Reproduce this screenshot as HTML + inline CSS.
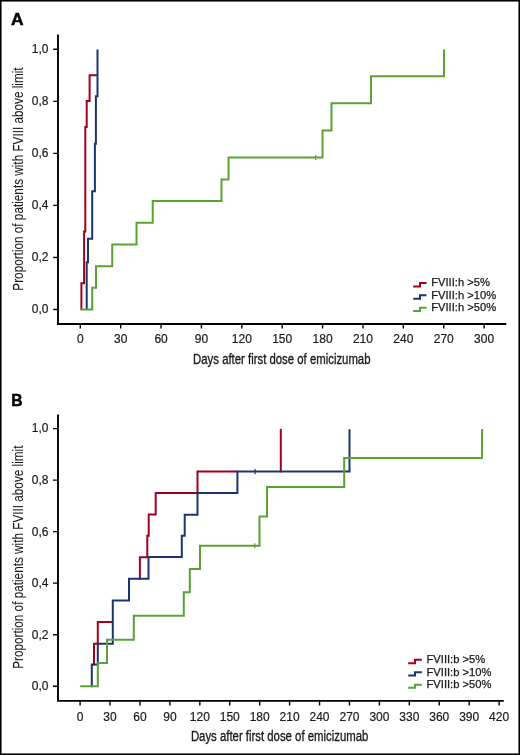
<!DOCTYPE html>
<html>
<head>
<meta charset="utf-8">
<style>
html,body{margin:0;padding:0;background:#fff;}
body{width:520px;height:755px;overflow:hidden;}
svg{display:block;will-change:transform;}
text{font-family:"Liberation Sans",sans-serif;fill:#1a1a1a;}
.tk{font-size:12px;stroke:#1a1a1a;stroke-width:0.2;}
.lg{font-size:11.2px;stroke:#1a1a1a;stroke-width:0.25;}
.ttl{font-size:15.3px;stroke:#1a1a1a;stroke-width:0.35;}
.big{font-size:17.4px;font-weight:bold;fill:#000;stroke:#000;stroke-width:0.5;}
.ax{stroke:#000;stroke-width:1.9;fill:none;}
.tm{stroke:#000;stroke-width:1.4;fill:none;}
.r{stroke:#a2001f;stroke-width:2;fill:none;}
.b{stroke:#1a3571;stroke-width:2;fill:none;}
.g{stroke:#5ba134;stroke-width:2;fill:none;}
.cg{stroke:#5ba134;stroke-width:1.2;fill:none;}
.cb{stroke:#1a3571;stroke-width:1.2;fill:none;}
</style>
</head>
<body>
<svg width="520" height="755" viewBox="0 0 520 755">
<rect x="0" y="0" width="520" height="755" fill="#fff"/>
<rect x="0.78" y="0.78" width="518.44" height="753.44" fill="none" stroke="#000" stroke-width="1.56"/>

<!-- ============ CHART A ============ -->
<text class="big" x="11.1" y="25.3">A</text>

<!-- axes -->
<path class="ax" d="M58,34.4 V323.95 H506.3"/>
<!-- y ticks -->
<path class="tm" d="M53.2,49.30H58 M53.2,101.34H58 M53.2,153.38H58 M53.2,205.42H58 M53.2,257.46H58 M53.2,309.50H58"/>
<!-- x ticks -->
<path class="tm" d="M80.3,324.5V328.4 M120.68,324.5V328.4 M161.06,324.5V328.4 M201.44,324.5V328.4 M241.82,324.5V328.4 M282.2,324.5V328.4 M322.58,324.5V328.4 M362.96,324.5V328.4 M403.34,324.5V328.4 M443.72,324.5V328.4 M484.1,324.5V328.4"/>

<g class="tk" text-anchor="end">
<text x="48.5" y="52.8">1,0</text>
<text x="48.5" y="104.8">0,8</text>
<text x="48.5" y="156.9">0,6</text>
<text x="48.5" y="208.9">0,4</text>
<text x="48.5" y="261">0,2</text>
<text x="48.5" y="313">0,0</text>
</g>
<g class="tk" text-anchor="middle">
<text x="80.3" y="343.4">0</text>
<text x="120.68" y="343.4">30</text>
<text x="161.06" y="343.4">60</text>
<text x="201.44" y="343.4">90</text>
<text x="241.82" y="343.4">120</text>
<text x="282.2" y="343.4">150</text>
<text x="322.58" y="343.4">180</text>
<text x="362.96" y="343.4">210</text>
<text x="403.34" y="343.4">240</text>
<text x="443.72" y="343.4">270</text>
<text x="484.1" y="343.4">300</text>
</g>

<text class="ttl" text-anchor="middle" transform="translate(281.8,363.5) scale(0.743,1)">Days after first dose of emicizumab</text>
<text class="ttl" text-anchor="middle" transform="translate(23,179) rotate(-90) scale(0.769,1)" style="stroke-width:0.1">Proportion of patients with FVIII above limit</text>

<!-- curves A -->
<g transform="translate(0,0.2)">
<path class="r" d="M81.4,309.3 V283 H84.1 V231.3 H85.3 V126.8 H86.7 V100.9 H89.6 V75 H97.5"/>
<path class="b" d="M86.7,309.3 V262 H88 V238.5 H92.2 V191 H94.9 V143.5 H95.9 V96 H97.5 V49.2"/>
<path class="g" d="M80.3,309.3 H92.2 V287.5 H96 V266 H112.2 V244.3 H136.5 V222.5 H152.7 V200.9 H221.5 V179.2 H228.5 V157.3 H322.5 V130.2 H331.5 V103 H371 V76 H444 V49.2"/>
<path class="cg" d="M315.7,154.8 V159.8"/>

</g>
<!-- legend A -->
<path class="r" d="M413.2,286.4 H420 V282.9 H426.5"/>
<path class="b" d="M413.2,298.7 H420 V295.3 H426.5"/>
<path class="g" d="M413.2,311 H420 V307.7 H426.5"/>
<g class="lg">
<text x="431.2" y="286.4">FVIII:h &gt;5%</text>
<text x="431.2" y="298.7">FVIII:h &gt;10%</text>
<text x="431.2" y="311">FVIII:h &gt;50%</text>
</g>

<!-- ============ CHART B ============ -->
<text class="big" x="11.3" y="405.9" transform="translate(11.3,0) scale(0.9,1) translate(-11.3,0)">B</text>

<path class="ax" d="M58,414.4 V700.9 H503.8"/>
<path class="tm" d="M53,428.60H58 M53,480.12H58 M53,531.64H58 M53,583.16H58 M53,634.68H58 M53,686.20H58"/>
<path class="tm" d="M80.10,701.6V705.6 M110.03,701.6V705.6 M139.96,701.6V705.6 M169.89,701.6V705.6 M199.82,701.6V705.6 M229.75,701.6V705.6 M259.68,701.6V705.6 M289.61,701.6V705.6 M319.54,701.6V705.6 M349.47,701.6V705.6 M379.40,701.6V705.6 M409.33,701.6V705.6 M439.26,701.6V705.6 M469.19,701.6V705.6 M499.12,701.6V705.6"/>

<g class="tk" text-anchor="end">
<text x="48.5" y="432.4">1,0</text>
<text x="48.5" y="484">0,8</text>
<text x="48.5" y="535.5">0,6</text>
<text x="48.5" y="587.1">0,4</text>
<text x="48.5" y="638.6">0,2</text>
<text x="48.5" y="690.2">0,0</text>
</g>
<g class="tk" text-anchor="middle">
<text x="80.10" y="720.6">0</text>
<text x="110.03" y="720.6">30</text>
<text x="139.96" y="720.6">60</text>
<text x="169.89" y="720.6">90</text>
<text x="199.82" y="720.6">120</text>
<text x="229.75" y="720.6">150</text>
<text x="259.68" y="720.6">180</text>
<text x="289.61" y="720.6">210</text>
<text x="319.54" y="720.6">240</text>
<text x="349.47" y="720.6">270</text>
<text x="379.40" y="720.6">300</text>
<text x="409.33" y="720.6">330</text>
<text x="439.26" y="720.6">360</text>
<text x="469.19" y="720.6">390</text>
<text x="499.12" y="720.6">420</text>
</g>

<text class="ttl" text-anchor="middle" transform="translate(279.6,740.7) scale(0.743,1)">Days after first dose of emicizumab</text>
<text class="ttl" text-anchor="middle" transform="translate(23,557.2) rotate(-90) scale(0.769,1)" style="stroke-width:0.1">Proportion of patients with FVIII above limit</text>

<!-- curves B -->
<path class="r" d="M94,665.5 V643.7 H97.8 V622 H112.8"/>
<path class="r" d="M139.9,579.8 V557.2 H147.3 V535.8 H148.7 V514.6 H155.7 V493.1 H197.5 V471.5 H237.4"/>
<path class="r" d="M280.8,472.4 V428.9"/>
<path class="b" d="M91.8,687.2 V664.5 H97.8 V643.8 H112.8 V600.5 H129 V578.8 H148.5 V557 H181.8 V535.7 H184.7 V514.7 H197.5 V493 H237.4 V471.5 H349.5 V429.2"/>
<path class="cb" d="M255.1,468.9 V474.2"/>
<path class="g" d="M80.2,686.2 H97.8 V663 H107 V639.7 H133.8 V615.8 H183.8 V592.3 H189.8 V569 H200 V545.7 H259.5 V516.5 H267 V487.1 H344.2 V458 H482.1 V429"/>
<path class="cg" d="M254.8,543.2 V548.2"/>

<!-- legend B -->
<path class="r" d="M408.2,663.2 H415 V659.8 H421.8"/>
<path class="b" d="M408.2,675.5 H415 V672.2 H421.8"/>
<path class="g" d="M408.2,687.8 H415 V684.8 H421.8"/>
<g class="lg">
<text x="426.5" y="663.4">FVIII:b &gt;5%</text>
<text x="426.5" y="675.7">FVIII:b &gt;10%</text>
<text x="426.5" y="688">FVIII:b &gt;50%</text>
</g>
</svg>
</body>
</html>
